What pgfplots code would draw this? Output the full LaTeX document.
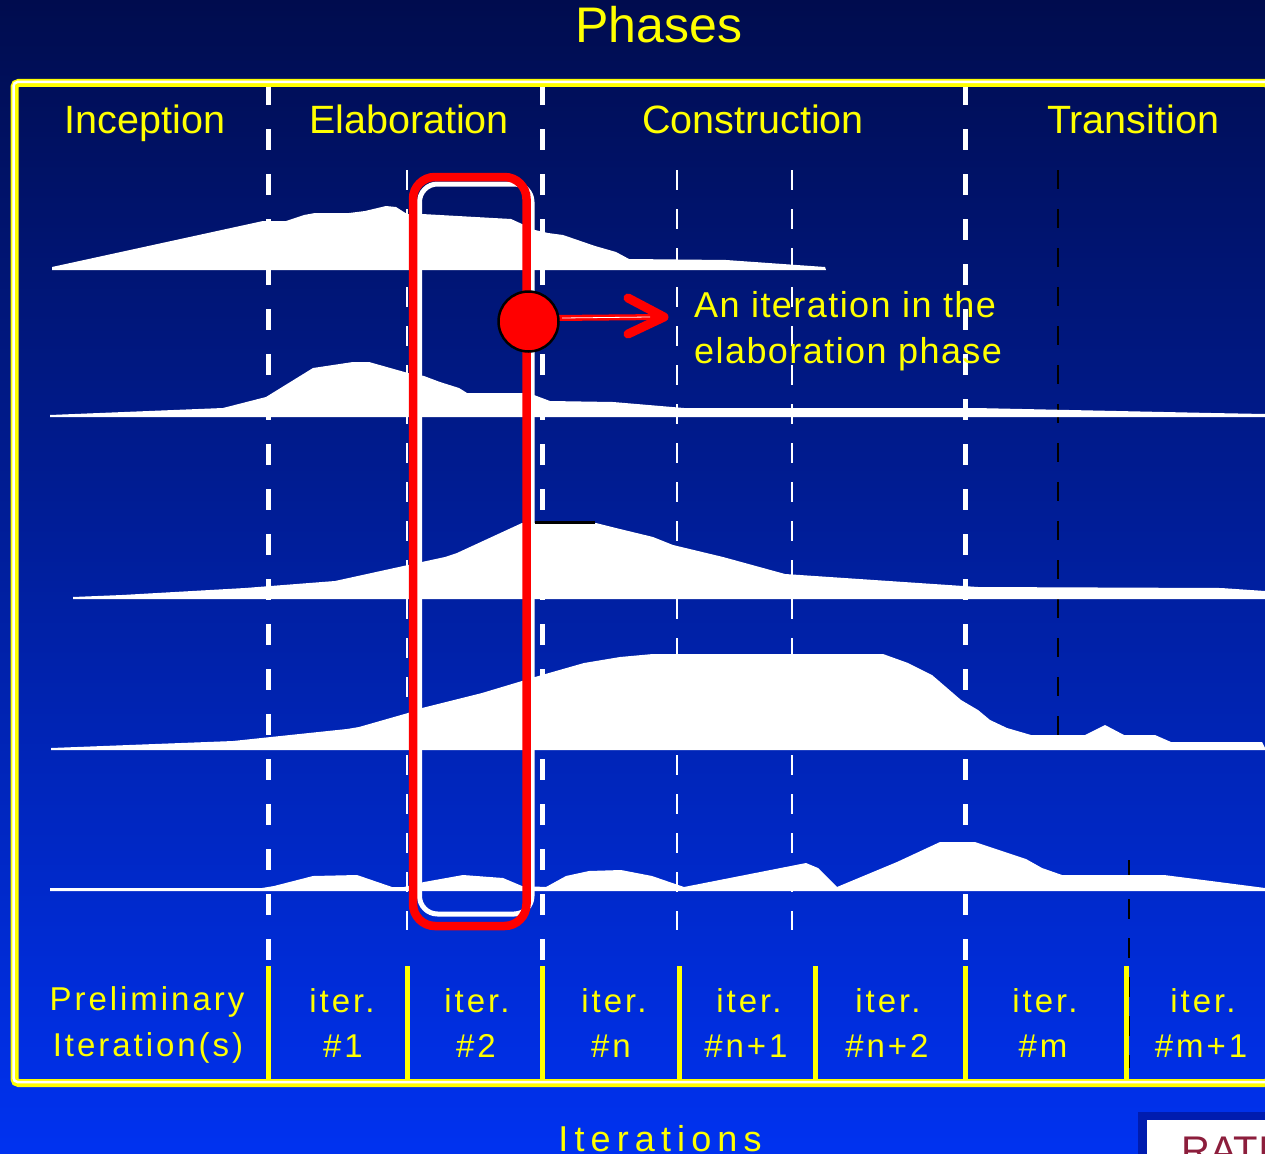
\documentclass[border=0pt]{standalone}
\usepackage{fontspec}
\setmainfont{Liberation Sans}
\newfontfamily\spaced[LetterSpace=9]{Liberation Sans}
\newfontfamily\wide[LetterSpace=17]{Liberation Sans}
\newfontfamily\annot[LetterSpace=4]{Liberation Sans}
\usepackage{pgfplots}
\pgfplotsset{compat=1.18}

\definecolor{yel}{RGB}{255,255,0}
\definecolor{topblue}{RGB}{0,12,78}
\definecolor{midblue}{RGB}{0,34,185}
\definecolor{botblue}{RGB}{0,50,240}
\definecolor{logored}{RGB}{140,30,60}
\definecolor{bevel}{RGB}{0,28,175}

\begin{document}
\begin{tikzpicture}
\begin{axis}[
  hide axis,
  scale only axis,
  width=1265pt, height=1153pt, % 1 unit = 1 px of the slide
  xmin=0, xmax=1265, ymin=0, ymax=1153,
  y dir=reverse,
  clip=false,
]
% slide background
\fill[top color=topblue, middle color=midblue, bottom color=botblue]
  (axis cs:0,0) rectangle (axis cs:1265,1153);

% phase boundaries (thick dashes)
\foreach \xx in {268,542,965}{
  \edef\tmp{\noexpand\draw[white, line width=5pt, dash pattern=on 21pt off 24pt]
    (axis cs:\xx,84) -- (axis cs:\xx,966);}\tmp
}
% iteration boundaries (thin dashes)
\foreach \xx in {407,677,792}{
  \edef\tmp{\noexpand\draw[white, line width=1.6pt, dash pattern=on 20pt off 19pt]
    (axis cs:\xx,170) -- (axis cs:\xx,930);}\tmp
}
\draw[black, line width=1.5pt, dash pattern=on 19pt off 20pt] (axis cs:1058,170) -- (axis cs:1058,740);
\draw[black, line width=1.5pt, dash pattern=on 20pt off 19pt] (axis cs:1129,860) -- (axis cs:1129,1068);

% workflow humps (pixel coords, baseline closes the shape)
\addplot[fill=white, draw=none] coordinates {
(52,270)(52,267)(263,221)(286,221)(304,215)(315,213)(349,213)(365,211)(386,206)
(396,207)(407,214)(422,214)(511,219)(522,224)(535,230)(548,233)(563,235)(595,246)
(616,252)(629,259)(726,260)(825,267)(826,270)};
\addplot[fill=white, draw=none] coordinates {
(50,417)(50,415)(223,408)(266,397)(313,368)(353,362)(369,362)(408,373)(424,376)
(440,382)(459,388)(467,393)(522,393)(534,395)(550,401)(613,402)(684,408)(975,408)
(1211,413)(1265,414)(1265,417)};
\addplot[fill=white, draw=none] coordinates {
(73,599)(73,597)(122,595)(245,588)(335,581)(408,565)(445,557)(457,553)(522,523)
(535,523)(596,523)(620,529)(653,537)(673,545)(723,557)(785,574)(978,587)(1221,588)
(1265,591)(1265,599)};
\addplot[fill=white, draw=none] coordinates {
(51,750)(51,748)(233,741)(347,729)(359,727)(408,713)(422,708)(482,693)(522,681)
(535,677)(584,663)(620,657)(653,654)(883,654)(908,663)(932,675)(961,700)(978,710)
(990,720)(1007,728)(1031,735)(1085,735)(1105,725)(1124,735)(1155,735)(1171,742)
(1262,742)(1265,748)(1265,750)};
\addplot[fill=white, draw=none] coordinates {
(50,891)(50,888)(262,888)(274,886)(313,876)(357,875)(392,887)(404,887)(424,882)
(463,875)(503,878)(522,886)(546,887)(566,876)(589,871)(621,870)(652,876)(684,887)
(806,863)(818,868)(837,887)(897,862)(940,842)(975,842)(1026,859)(1042,868)
(1062,875)(1164,875)(1211,881)(1265,888)(1265,891)};
\draw[black, line width=3pt] (axis cs:535,522) -- (axis cs:595,522);

% highlighted iteration
\draw[white, line width=5pt, rounded corners=18pt] (axis cs:419.5,184) rectangle (axis cs:532,914);
\draw[red, line width=8.5pt, rounded corners=22pt] (axis cs:413,177) rectangle (axis cs:526.5,926);
\draw[red, line width=6pt] (axis cs:555,318) -- (axis cs:662,317);
\draw[white, line width=0.8pt] (axis cs:562,318) -- (axis cs:650,317);
\draw[red, line width=9pt, line cap=round, line join=round]
  (axis cs:628,298) -- (axis cs:664,317) -- (axis cs:628,334);
\filldraw[fill=red, draw=black, line width=2.5pt] (axis cs:528.5,321.5) circle[radius=30pt];

% texts
\node[anchor=base, text=yel, inner sep=0, font=\fontsize{50}{56}\selectfont] at (axis cs:659,43) {Phases};
\node[anchor=base, text=yel, inner sep=0, font=\fontsize{39.5}{44}\selectfont] at (axis cs:145,133) {Inception};
\node[anchor=base, text=yel, inner sep=0, font=\fontsize{39.5}{44}\selectfont] at (axis cs:409,133) {Elaboration};
\node[anchor=base, text=yel, inner sep=0, font=\fontsize{39.5}{44}\selectfont] at (axis cs:753,133) {Construction};
\node[anchor=base, text=yel, inner sep=0, font=\fontsize{39.5}{44}\selectfont] at (axis cs:1133,133) {Transition};
\node[anchor=base west, text=yel, inner sep=0, font=\annot\fontsize{36}{42}\selectfont] at (axis cs:694,317) {An iteration in the};
\node[anchor=base west, text=yel, inner sep=0, font=\annot\fontsize{36}{42}\selectfont] at (axis cs:694,363) {elaboration phase};

% iteration row
\foreach \xx in {268,407,542,679,815,965,1126}{
  \edef\tmp{\noexpand\draw[yel, line width=5pt] (axis cs:\xx,966) -- (axis cs:\xx,1080);}\tmp
}
\node[anchor=base, text=yel, inner sep=0, font=\spaced\fontsize{33}{40}\selectfont] at (axis cs:147,1010) {Preliminary};
\node[anchor=base, text=yel, inner sep=0, font=\spaced\fontsize{33}{40}\selectfont] at (axis cs:148,1056) {Iteration(s)};
\foreach \xx in {342,477,614,749,888,1045,1203}{
  \edef\tmp{\noexpand\node[anchor=base, text=yel, inner sep=0, font=\noexpand\spaced\noexpand\fontsize{33}{40}\noexpand\selectfont] at (axis cs:\xx,1012) {iter.};}\tmp
}
\node[anchor=base, text=yel, inner sep=0, font=\spaced\fontsize{33}{40}\selectfont] at (axis cs:343,1057) {\#1};
\node[anchor=base, text=yel, inner sep=0, font=\spaced\fontsize{33}{40}\selectfont] at (axis cs:476,1057) {\#2};
\node[anchor=base, text=yel, inner sep=0, font=\spaced\fontsize{33}{40}\selectfont] at (axis cs:611,1057) {\#n};
\node[anchor=base, text=yel, inner sep=0, font=\spaced\fontsize{33}{40}\selectfont] at (axis cs:746,1057) {\#n+1};
\node[anchor=base, text=yel, inner sep=0, font=\spaced\fontsize{33}{40}\selectfont] at (axis cs:887,1057) {\#n+2};
\node[anchor=base, text=yel, inner sep=0, font=\spaced\fontsize{33}{40}\selectfont] at (axis cs:1043,1057) {\#m};
\node[anchor=base, text=yel, inner sep=0, font=\spaced\fontsize{33}{40}\selectfont] at (axis cs:1201,1057) {\#m+1};

% frame
\draw[yel, line width=8pt, rounded corners=4pt] (axis cs:14.5,83) rectangle (axis cs:1269,1083);
\draw[white, line width=2.5pt, rounded corners=4pt] (axis cs:13.5,82) rectangle (axis cs:1270,1082);

\node[anchor=base, text=yel, inner sep=0, font=\wide\fontsize{36}{42}\selectfont] at (axis cs:660,1151) {Iterations};

% logo corner
\fill[bevel] (axis cs:1138,1112) rectangle (axis cs:1275,1165);
\fill[white] (axis cs:1147,1120) rectangle (axis cs:1275,1165);
\node[anchor=base west, text=logored, inner sep=0, font=\fontsize{40}{46}\selectfont] at (axis cs:1181,1164) {RATIONAL};
\end{axis}
\pgfresetboundingbox
\useasboundingbox (0,0) rectangle (1265pt,1153pt);
\end{tikzpicture}
\end{document}
